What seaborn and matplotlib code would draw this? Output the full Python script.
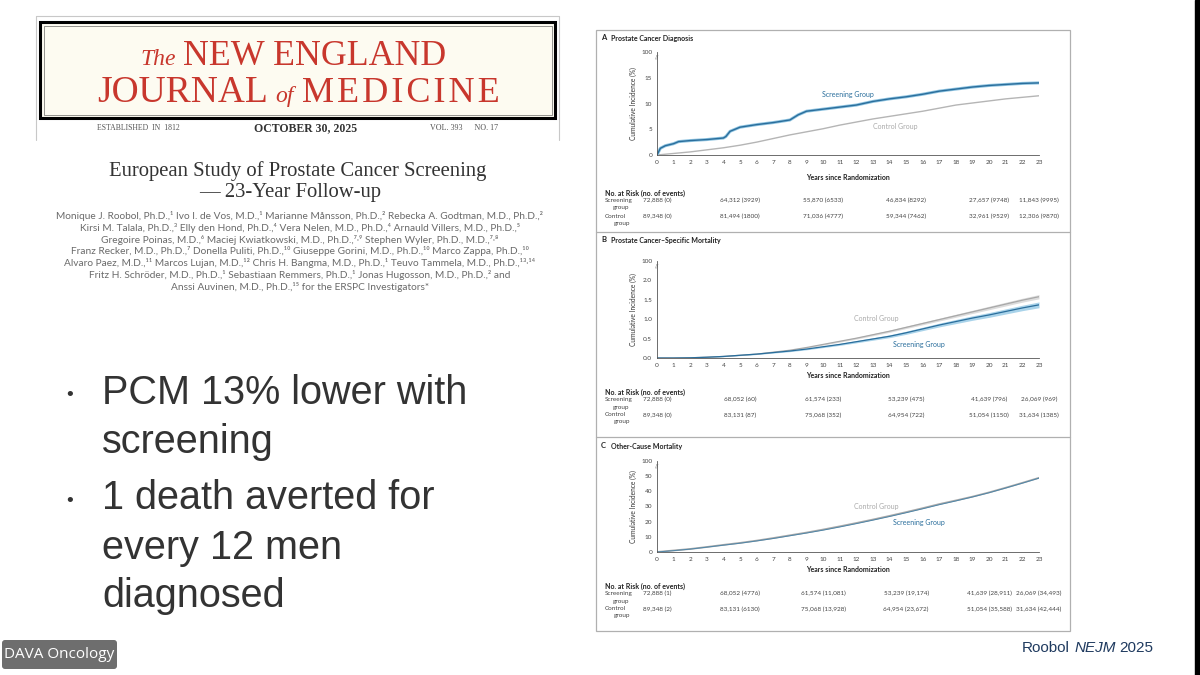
import matplotlib
matplotlib.use('Agg')
import matplotlib.pyplot as plt
import matplotlib.transforms as mtransforms
from matplotlib.patches import Rectangle, FancyBboxPatch
import seaborn as sns

sns.set_style('white')
plt.rcParams['font.family'] = ['Lato', 'DejaVu Sans']

W, H = 1200, 675

# ---------------- data ----------------
years = list(range(24))

# A: prostate cancer diagnosis (cumulative incidence, %)
dx_screen_t = [0, 0.2, 0.5, 1, 1.3, 2, 3, 4, 4.15, 4.4, 5, 6, 7, 8, 8.5, 9, 10, 11, 12,
               13, 14, 15, 16, 17, 18, 19, 20, 21, 22, 23]
dx_screen = [0, 1.3, 1.8, 2.2, 2.6, 2.8, 3.0, 3.3, 3.6, 4.6, 5.4, 5.9, 6.3, 6.8, 7.8, 8.5,
             8.9, 9.3, 9.7, 10.4, 10.9, 11.3, 11.8, 12.4, 12.8, 13.2, 13.5, 13.7, 13.9, 14.0]
dx_control = [0, 0.3, 0.6, 1.0, 1.4, 1.9, 2.5, 3.2, 3.9, 4.5, 5.1, 5.8, 6.4, 7.0, 7.5,
              8.0, 8.5, 9.1, 9.7, 10.1, 10.5, 10.9, 11.2, 11.5]

# B: prostate cancer-specific mortality (%)
pcsm_control = [0, 0, 0.005, 0.02, 0.04, 0.07, 0.1, 0.15, 0.2, 0.27, 0.35, 0.43, 0.51,
                0.6, 0.69, 0.79, 0.89, 0.99, 1.09, 1.19, 1.29, 1.39, 1.49, 1.58]
pcsm_screen = [0, 0, 0.005, 0.02, 0.04, 0.07, 0.1, 0.14, 0.18, 0.23, 0.29, 0.35, 0.42,
               0.49, 0.56, 0.65, 0.75, 0.85, 0.94, 1.03, 1.11, 1.2, 1.29, 1.37]
pcsm_control_hw = [0, 0, 0, 0.003, 0.005, 0.007, 0.009, 0.011, 0.013, 0.015, 0.018, 0.02,
                   0.023, 0.025, 0.028, 0.03, 0.033, 0.036, 0.039, 0.042, 0.045, 0.048,
                   0.051, 0.055]
pcsm_screen_hw = [0, 0, 0, 0.004, 0.006, 0.008, 0.01, 0.013, 0.016, 0.019, 0.022, 0.025,
                  0.029, 0.032, 0.036, 0.04, 0.044, 0.048, 0.053, 0.058, 0.062, 0.066,
                  0.07, 0.075]

# C: other-cause mortality (%)
ocm_control = [0, 1.0, 2.0, 3.3, 4.7, 6.0, 7.5, 9.2, 11.0, 12.8, 14.8, 16.9, 19.1, 21.4,
               23.8, 26.3, 28.9, 31.6, 34.0, 36.5, 39.3, 42.4, 45.6, 48.9]
ocm_screen = [0, 0.9, 1.9, 3.2, 4.5, 5.8, 7.3, 8.9, 10.7, 12.5, 14.4, 16.5, 18.7, 21.0,
              23.4, 25.9, 28.5, 31.2, 33.7, 36.3, 39.1, 42.2, 45.4, 48.7]

# numbers at risk
risk_years = [0, 5, 10, 15, 20, 23]
dx_risk_screen = ['72,888 (0)', '64,312 (3929)', '55,870 (6533)', '46,834 (8292)',
                  '27,657 (9748)', '11,843 (9995)']
dx_risk_control = ['89,348 (0)', '81,494 (1800)', '71,036 (4777)', '59,344 (7462)',
                   '32,961 (9529)', '12,306 (9870)']
pcsm_risk_screen = ['72,888 (0)', '68,052 (60)', '61,574 (233)', '53,239 (475)',
                    '41,639 (796)', '26,069 (969)']
pcsm_risk_control = ['89,348 (0)', '83,131 (87)', '75,068 (352)', '64,954 (722)',
                     '51,054 (1150)', '31,634 (1385)']
ocm_risk_screen = ['72,888 (1)', '68,052 (4776)', '61,574 (11,081)', '53,239 (19,174)',
                   '41,639 (28,911)', '26,069 (34,493)']
ocm_risk_control = ['89,348 (2)', '83,131 (6130)', '75,068 (13,928)', '64,954 (23,672)',
                    '51,054 (35,588)', '31,634 (42,444)']

authors = [
    'Monique J. Roobol, Ph.D.,¹ Ivo I. de Vos, M.D.,¹ Marianne Månsson, Ph.D.,² Rebecka A. Godtman, M.D., Ph.D.,²',
    'Kirsi M. Talala, Ph.D.,³ Elly den Hond, Ph.D.,⁴ Vera Nelen, M.D., Ph.D.,⁴ Arnauld Villers, M.D., Ph.D.,⁵',
    'Gregoire Poinas, M.D.,⁶ Maciej Kwiatkowski, M.D., Ph.D.,⁷˒⁹ Stephen Wyler, Ph.D., M.D.,⁷˒⁸',
    'Franz Recker, M.D., Ph.D.,⁷ Donella Puliti, Ph.D.,¹⁰ Giuseppe Gorini, M.D., Ph.D.,¹⁰ Marco Zappa, Ph.D.,¹⁰',
    'Alvaro Paez, M.D.,¹¹ Marcos Lujan, M.D.,¹² Chris H. Bangma, M.D., Ph.D.,¹ Teuvo Tammela, M.D., Ph.D.,¹³˒¹⁴',
    'Fritz H. Schröder, M.D., Ph.D.,¹ Sebastiaan Remmers, Ph.D.,¹ Jonas Hugosson, M.D., Ph.D.,² and',
    'Anssi Auvinen, M.D., Ph.D.,¹⁵ for the ERSPC Investigators*',
]
bullets = [['PCM 13% lower with', 'screening'],
           ['1 death averted for', 'every 12 men', 'diagnosed']]

BLUE = '#2a6e9c'
BLUE_LIGHT = '#8ec3e0'
GRAY = '#b5b5b5'
TXT = '#333333'
RED = '#c8372d'
SERIF = ['Liberation Serif', 'DejaVu Serif']
SANS = 'Liberation Sans'

fig = plt.figure(figsize=(12, 6.75), dpi=100)
bg = fig.add_axes([0, 0, 1, 1])
bg.set_xlim(0, W)
bg.set_ylim(H, 0)
bg.axis('off')


def rect(x0, y0, x1, y1):
    return [x0 / W, 1 - y1 / H, (x1 - x0) / W, (y1 - y0) / H]


# ---------------- left side: masthead, title, bullets ----------------
for x in (36, 559):
    bg.plot([x, x], [16, 140], color='#c8c8c8', lw=0.8)
bg.plot([36, 559], [16, 16], color='#c8c8c8', lw=0.8)
bg.add_patch(Rectangle((40, 22), 515, 96, facecolor='#fdfbf1', edgecolor='black', lw=2.2))
bg.add_patch(Rectangle((43.5, 25.5), 508, 89, facecolor='none', edgecolor='#444444', lw=0.4))

bg.text(140, 65, 'The', family=SERIF, style='italic', color=RED, fontsize=17, va='baseline')
bg.text(183, 65, 'NEW ENGLAND', family=SERIF, color=RED, fontsize=25.8, va='baseline')
bg.text(97, 102, 'JOURNAL', family=SERIF, color=RED, fontsize=27, va='baseline')
bg.text(275, 102, 'of', family=SERIF, style='italic', color=RED, fontsize=17, va='baseline')
bg.text(302, 102, 'M E D I C I N E'.replace(' ', '\u200a'), family=SERIF, color=RED,
        fontsize=26, va='baseline')

bg.text(97, 128, 'ESTABLISHED  IN  1812', family=SERIF, color='#555555',
        fontsize=5.6, va='center')
bg.text(306, 128, 'OCTOBER 30, 2025', family=SERIF, color=TXT, fontsize=8.5, va='center',
        ha='center', weight='bold')
bg.text(430, 128, 'VOL. 393      NO. 17', family=SERIF, color='#555555', fontsize=5.8,
        va='center')

bg.text(298, 171, 'European Study of Prostate Cancer Screening', family=SERIF, color=TXT,
        fontsize=14.9, ha='center', va='center')
bg.text(290, 193, '— 23-Year Follow-up', family=SERIF, color=TXT, fontsize=14.9,
        ha='center', va='center')
for i, line in enumerate(authors):
    bg.text(300, 216 + i * 11.8, line, color='#6a6a6a', fontsize=7.3, ha='center', va='center')

bullet_y = [[393, 442], [498, 548, 596]]
for lines, ys in zip(bullets, bullet_y):
    bg.text(70, ys[0] + 3, '•', family=SANS, color=TXT, fontsize=14, ha='center', va='center')
    for line, y in zip(lines, ys):
        bg.text(102, y, line, family=SANS, color=TXT, fontsize=28.5, va='center')

bg.add_patch(FancyBboxPatch((2, 640), 115, 29, boxstyle='round,pad=0,rounding_size=3',
                            facecolor='#6e6e6e', edgecolor='none'))
bg.text(59, 655, 'DAVA Oncology', family=['Open Sans', 'DejaVu Sans'], color='white',
        fontsize=11, ha='center', va='center')

t1 = bg.text(1022, 648, 'Roobol', family=SANS, color='#1f3a5f', fontsize=11, va='center')
t2 = bg.annotate('NEJM', xy=(1, 0), xycoords=t1, xytext=(3, 0), textcoords='offset points',
                 family=SANS, style='italic', color='#1f3a5f', fontsize=11, va='bottom')
bg.annotate('2025', xy=(1, 0), xycoords=t2, xytext=(3, 0), textcoords='offset points',
            family=SANS, color='#1f3a5f', fontsize=11, va='bottom')

bg.add_patch(Rectangle((1195, 0), 5, H, color='black'))

# ---------------- right side: NEJM figure ----------------
bg.add_patch(Rectangle((596, 30), 474, 601, facecolor='white', edgecolor='#b0b0b0', lw=0.9))
for y in (232, 437):
    bg.plot([596, 1070], [y, y], color='#b0b0b0', lw=0.9)


def style_axes(ax, ymax, yticks, ylabels):
    ax.set_xlim(0, 23)
    ax.set_ylim(0, ymax)
    ax.set_xticks(years)
    ax.set_xticklabels([str(y) for y in years])
    ax.set_yticks(yticks)
    ax.set_yticklabels(ylabels)
    ax.set_facecolor('none')
    ax.grid(False)
    ax.set_xlabel('')
    ax.set_ylabel('')
    sns.despine(ax=ax)
    for s in ('left', 'bottom'):
        ax.spines[s].set_color('#555555')
        ax.spines[s].set_linewidth(0.6)
    ax.tick_params(length=2, width=0.5, pad=1.5, labelsize=4.6, colors='#444444')
    ax.text(0.0, 0.95, '//', transform=ax.transAxes, fontsize=3.5, color='#555555',
            ha='center', va='center')


def panel_text(ax, letter, title, y_title, y_risk, screen, control):
    bg.text(601, y_title, letter, fontsize=5.5, weight='bold', color='#222222', va='center')
    bg.text(611, y_title, title, fontsize=5, weight='bold', color='#222222', va='center')
    pos = ax.get_position()
    xc = (pos.x0 + pos.x1) / 2 * W
    yc = (1 - (pos.y0 + pos.y1) / 2) * H
    bg.text(633, yc, 'Cumulative Incidence (%)', rotation=90, fontsize=4.8,
            color='#333333', ha='center', va='center')
    bg.text(xc, y_risk - 16, 'Years since Randomization', fontsize=5, weight='bold',
            color='#222222', ha='center', va='center')
    bg.text(605, y_risk, 'No. at Risk (no. of events)', fontsize=5, weight='bold',
            color='#222222', va='center')
    bg.text(605, y_risk + 7.5, 'Screening', fontsize=4.6, color='#444444', va='center')
    bg.text(613, y_risk + 15, 'group', fontsize=4.6, color='#444444', va='center')
    bg.text(605, y_risk + 23, 'Control', fontsize=4.6, color='#444444', va='center')
    bg.text(614, y_risk + 30, 'group', fontsize=4.6, color='#444444', va='center')
    tr = mtransforms.blended_transform_factory(ax.transData, bg.transData)
    for yr, s, c in zip(risk_years, screen, control):
        ax.text(yr, y_risk + 7.5, s, transform=tr, ha='center', va='center', fontsize=4.6,
                color='#444444')
        ax.text(yr, y_risk + 23, c, transform=tr, ha='center', va='center', fontsize=4.6,
                color='#444444')


# Panel A
axA = fig.add_axes(rect(657, 52, 1039, 155))
sns.lineplot(x=years, y=dx_control, ax=axA, color=GRAY, lw=1.0)
sns.lineplot(x=dx_screen_t, y=dx_screen, ax=axA, color=BLUE_LIGHT, lw=2.2)
sns.lineplot(x=dx_screen_t, y=dx_screen, ax=axA, color=BLUE, lw=1.0)
style_axes(axA, 20, [0, 5, 10, 15, 20], ['0', '5', '10', '15', '100'])
panel_text(axA, 'A', 'Prostate Cancer Diagnosis', 38, 193, dx_risk_screen, dx_risk_control)
bg.text(848, 95, 'Screening Group', fontsize=5, color=BLUE, ha='center', va='center')
bg.text(895, 126, 'Control Group', fontsize=5, color='#aaaaaa', ha='center', va='center')

# Panel B
axB = fig.add_axes(rect(657, 261, 1039, 358))
axB.fill_between(years, [v - h for v, h in zip(pcsm_control, pcsm_control_hw)],
                 [v + h for v, h in zip(pcsm_control, pcsm_control_hw)], color='#dcdcdc', lw=0)
axB.fill_between(years, [v - h for v, h in zip(pcsm_screen, pcsm_screen_hw)],
                 [v + h for v, h in zip(pcsm_screen, pcsm_screen_hw)], color='#a9d3ea', lw=0)
sns.lineplot(x=years, y=pcsm_control, ax=axB, color='#a8a8a8', lw=0.9)
sns.lineplot(x=years, y=pcsm_screen, ax=axB, color=BLUE, lw=0.9)
style_axes(axB, 2.5, [0, 0.5, 1.0, 1.5, 2.0, 2.5], ['0.0', '0.5', '1.0', '1.5', '2.0', '100'])
panel_text(axB, 'B', 'Prostate Cancer–Specific Mortality', 240, 392,
           pcsm_risk_screen, pcsm_risk_control)
bg.text(876, 319, 'Control Group', fontsize=5, color='#aaaaaa', ha='center', va='center')
bg.text(919, 344, 'Screening Group', fontsize=5, color=BLUE, ha='center', va='center')

# Panel C
axC = fig.add_axes(rect(657, 461, 1039, 552))
sns.lineplot(x=years, y=ocm_control, ax=axC, color='#a8a8a8', lw=1.3)
sns.lineplot(x=years, y=ocm_screen, ax=axC, color='#4f86a8', lw=0.7)
style_axes(axC, 60, [0, 10, 20, 30, 40, 50, 60], ['0', '10', '20', '30', '40', '50', '100'])
panel_text(axC, 'C', 'Other-Cause Mortality', 446, 586, ocm_risk_screen, ocm_risk_control)
bg.text(876, 507, 'Control Group', fontsize=5, color='#aaaaaa', ha='center', va='center')
bg.text(919, 522, 'Screening Group', fontsize=5, color=BLUE, ha='center', va='center')

fig.savefig('out.png', dpi=100)
